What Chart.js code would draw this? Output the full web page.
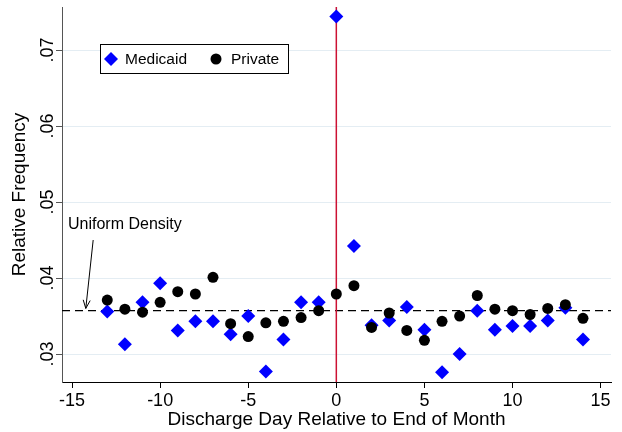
<!DOCTYPE html>
<html>
<head>
<meta charset="utf-8">
<script src="https://cdn.jsdelivr.net/npm/chart.js@4.4.1/dist/chart.umd.min.js"></script>
<style>
  html, body { margin: 0; padding: 0; background: #ffffff; }
  #wrap { width: 622px; height: 432px; }
</style>
</head>
<body>
<div id="wrap"><canvas id="c" width="622" height="432"></canvas></div>
<script>
// ---- data ----
const days = [-13, -12, -11, -10, -9, -8, -7, -6, -5, -4, -3, -2, -1, 0,
              1, 2, 3, 4, 5, 6, 7, 8, 9, 10, 11, 12, 13, 14];
const medicaid = [0.0356, 0.0313, 0.0368, 0.0393, 0.0331, 0.0343, 0.0343, 0.0326, 0.0350, 0.0277,
                  0.0319, 0.0368, 0.0368, 0.0744, 0.0442, 0.0338, 0.0344, 0.0362, 0.0332, 0.0276,
                  0.0300, 0.0357, 0.0332, 0.0337, 0.0337, 0.0344, 0.0361, 0.0319];
const privateIns = [0.0371, 0.0359, 0.0355, 0.0368, 0.0382, 0.0379, 0.0401, 0.0340, 0.0323, 0.0341,
                    0.0343, 0.0348, 0.0357, 0.0379, 0.0390, 0.0335, 0.0354, 0.0331, 0.0318, 0.0343,
                    0.0350, 0.0377, 0.0359, 0.0357, 0.0352, 0.0360, 0.0365, 0.0347];
const uniformDensity = 1 / 28;
const cutoffDay = 0;
const xTicks = [-15, -10, -5, 0, 5, 10, 15];
const yTicks = [0.03, 0.04, 0.05, 0.06, 0.07];
const yTickLabels = ['.03', '.04', '.05', '.06', '.07'];
const seriesNames = ['Medicaid', 'Private'];
const xTitle = 'Discharge Day Relative to End of Month';
const yTitle = 'Relative Frequency';
const annotationText = 'Uniform Density';
const xMin = -15.57, xMax = 15.59;
const yMin = 0.02632, yMax = 0.07566;
// annotation arrow (data coordinates)
const arrowFrom = { x: -13.8, y: 0.0450 };
const arrowTo = { x: -14.22, y: 0.0360 };
const annotationAt = { x: -15.23, y: 0.0470 };

const FONT = '"Liberation Sans", Arial, Helvetica, sans-serif';
const BLUE = '#0000ff';
const RED = '#cc1133';

function pts(xs, ys) { return xs.map((x, i) => ({ x: x, y: ys[i] })); }

const overlayPlugin = {
  id: 'overlay',
  afterDraw(chart) {
    const ctx = chart.ctx;
    const xs = chart.scales.x, ys = chart.scales.y;
    const area = chart.chartArea;
    ctx.save();
    // y tick labels, rotated
    ctx.fillStyle = '#000';
    ctx.font = '18px ' + FONT;
    ctx.textAlign = 'center';
    ctx.textBaseline = 'bottom';
    yTicks.forEach((v, i) => {
      const py = ys.getPixelForValue(v);
      ctx.save();
      ctx.translate(area.left - 8, py);
      ctx.rotate(-Math.PI / 2);
      ctx.fillText(yTickLabels[i], 0, 3);
      ctx.restore();
    });
    // annotation text
    ctx.font = '16px ' + FONT;
    ctx.textAlign = 'left';
    ctx.textBaseline = 'middle';
    ctx.fillText(annotationText, xs.getPixelForValue(annotationAt.x), ys.getPixelForValue(annotationAt.y));
    // arrow
    const x1 = xs.getPixelForValue(arrowFrom.x), y1 = ys.getPixelForValue(arrowFrom.y);
    const x2 = xs.getPixelForValue(arrowTo.x), y2 = ys.getPixelForValue(arrowTo.y);
    ctx.strokeStyle = '#000';
    ctx.lineWidth = 1;
    ctx.beginPath();
    ctx.moveTo(x1, y1);
    ctx.lineTo(x2, y2);
    const ang = Math.atan2(y2 - y1, x2 - x1);
    const hl = 9, ha = 0.4;
    ctx.moveTo(x2, y2);
    ctx.lineTo(x2 - hl * Math.cos(ang - ha), y2 - hl * Math.sin(ang - ha));
    ctx.moveTo(x2, y2);
    ctx.lineTo(x2 - hl * Math.cos(ang + ha), y2 - hl * Math.sin(ang + ha));
    ctx.stroke();
    // legend box
    const lx = area.left + 38, ly = area.top + 37, lw = 188, lh = 29;
    ctx.fillStyle = '#fff';
    ctx.fillRect(lx, ly, lw, lh);
    ctx.strokeStyle = '#000';
    ctx.strokeRect(lx + 0.5, ly + 0.5, lw, lh);
    const cy = ly + lh / 2 + 0.5;
    // diamond
    ctx.fillStyle = BLUE;
    ctx.beginPath();
    const dx = lx + 11, dr = 7;
    ctx.moveTo(dx, cy - dr); ctx.lineTo(dx + dr, cy); ctx.lineTo(dx, cy + dr); ctx.lineTo(dx - dr, cy);
    ctx.closePath(); ctx.fill();
    // circle
    ctx.fillStyle = '#000';
    ctx.beginPath();
    ctx.arc(lx + 116, cy, 5.5, 0, Math.PI * 2);
    ctx.fill();
    ctx.font = '15.5px ' + FONT;
    ctx.textAlign = 'left';
    ctx.textBaseline = 'middle';
    ctx.fillText(seriesNames[0], lx + 25, cy + 1);
    ctx.fillText(seriesNames[1], lx + 131, cy + 1);
    ctx.restore();
  }
};

new Chart(document.getElementById('c'), {
  type: 'scatter',
  data: {
    datasets: [
      {
        label: seriesNames[0],
        data: pts(days, medicaid),
        pointStyle: 'rectRot',
        pointRadius: 7,
        pointBorderWidth: 0,
        backgroundColor: BLUE,
        borderColor: BLUE,
        order: 1
      },
      {
        label: seriesNames[1],
        data: pts(days, privateIns),
        pointStyle: 'circle',
        pointRadius: 5.5,
        pointBorderWidth: 0,
        backgroundColor: '#000',
        borderColor: '#000',
        order: 0
      },
      {
        label: 'uniform',
        type: 'line',
        data: [{ x: xMin, y: uniformDensity }, { x: xMax, y: uniformDensity }],
        borderColor: '#000',
        borderWidth: 1.3,
        borderDash: [8, 5],
        pointRadius: 0,
        fill: false,
        order: 3
      },
      {
        label: 'cutoff',
        type: 'line',
        data: [{ x: cutoffDay, y: yMin }, { x: cutoffDay, y: yMax }],
        borderColor: RED,
        borderWidth: 1.5,
        pointRadius: 0,
        fill: false,
        order: 2
      }
    ]
  },
  options: {
    responsive: false,
    animation: false,
    devicePixelRatio: 1,
    layout: { padding: { top: 7, right: 11, left: 0, bottom: 0 } },
    plugins: {
      legend: { display: false },
      tooltip: { enabled: false },
      title: { display: false }
    },
    events: [],
    scales: {
      x: {
        type: 'linear',
        min: xMin,
        max: xMax,
        afterBuildTicks: (s) => { s.ticks = xTicks.map(v => ({ value: v })); },
        afterFit: (s) => { s.height = 50; },
        ticks: {
          color: '#000',
          font: { family: FONT, size: 18 },
          padding: 2,
          maxRotation: 0,
          callback: (v) => String(v)
        },
        grid: { drawOnChartArea: false, drawTicks: true, tickLength: 6, tickColor: '#000', tickWidth: 1 },
        border: { display: true, color: '#000', width: 1 },
        title: {
          display: true,
          text: xTitle,
          color: '#000',
          font: { family: FONT, size: 19 },
          padding: { top: 0, bottom: 1 }
        }
      },
      y: {
        type: 'linear',
        min: yMin,
        max: yMax,
        afterBuildTicks: (s) => { s.ticks = yTicks.map(v => ({ value: v })); },
        afterFit: (s) => { s.width = 62; },
        ticks: { display: false },
        grid: { color: '#e4edf3', lineWidth: 1, drawTicks: true, tickLength: 6, tickColor: '#555', tickWidth: 1 },
        border: { display: true, color: '#555', width: 1 },
        title: {
          display: true,
          text: yTitle,
          color: '#000',
          font: { family: FONT, size: 19 },
          padding: { top: 8.6, bottom: 0 }
        }
      }
    }
  },
  plugins: [overlayPlugin]
});
</script>
</body>
</html>
